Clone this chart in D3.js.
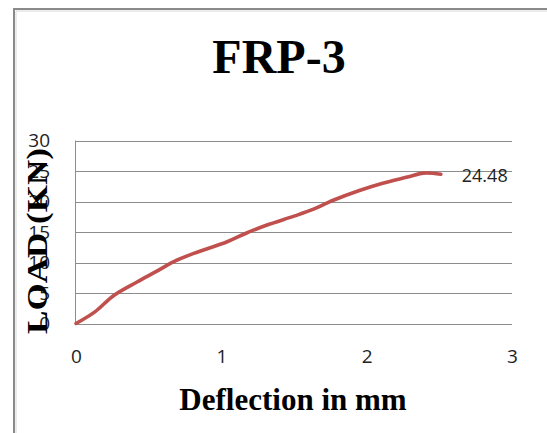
<!DOCTYPE html>
<html>
<head>
<meta charset="utf-8">
<script src="https://cdn.jsdelivr.net/npm/d3@7"></script>
<style>
  html, body { margin: 0; padding: 0; background: #fff; }
  svg { display: block; }
</style>
</head>
<body>
<svg id="chart" width="547" height="433"></svg>
<script>
// Load–deflection record for specimen FRP-3
const deflection = [0, 0.13, 0.26, 0.42, 0.55, 0.67, 0.81, 1.04, 1.17, 1.31, 1.50, 1.63, 1.77, 1.95, 2.11, 2.28, 2.39, 2.51];
const load       = [0, 1.9, 4.6, 6.8, 8.5, 10.1, 11.5, 13.4, 14.8, 16.1, 17.6, 18.7, 20.2, 21.8, 23.0, 24.0, 24.65, 24.48];
const xTicks = [0, 1, 2, 3];
const yTicks = [0, 5, 10, 15, 20, 25, 30];
const chartTitle = "FRP-3";
const xTitle = "Deflection in mm";
const yTitle = "LOAD (KN)";

const svg = d3.select("#chart");
const W = 547, H = 433;
const labelFont = "'Open Sans', 'Liberation Sans', sans-serif";
const titleFont = "'Liberation Serif', 'Times New Roman', serif";

// outer frame
svg.append("path")
  .attr("d", `M14,${H} L14,9 L${W},9`)
  .attr("fill", "none").attr("stroke", "#8a8a8a").attr("stroke-width", 2);
svg.append("path")
  .attr("d", `M16,${H} L16,11 L${W},11`)
  .attr("fill", "none").attr("stroke", "#d8d8d8").attr("stroke-width", 1);

const x = d3.scaleLinear().domain([0, 3]).range([76, 512]);
const y = d3.scaleLinear().domain([0, 30]).range([323.5, 140.5]);

// horizontal gridlines
svg.append("g").selectAll("line").data(yTicks).join("line")
  .attr("x1", x(0)).attr("x2", x(3))
  .attr("y1", d => Math.round(y(d)) + 0.5).attr("y2", d => Math.round(y(d)) + 0.5)
  .attr("stroke", "#8c8c8c").attr("stroke-width", 1);

// vertical axis line
svg.append("line")
  .attr("x1", x(0) - 0.5).attr("x2", x(0) - 0.5)
  .attr("y1", y(30)).attr("y2", y(0))
  .attr("stroke", "#8c8c8c").attr("stroke-width", 1);

// x axis labels
const xAxis = d3.axisBottom(x).tickValues(xTicks).tickSize(0).tickPadding(0).tickFormat(d3.format("d"));
const gx = svg.append("g").attr("transform", "translate(0,349)").call(xAxis);
gx.select(".domain").remove();
gx.selectAll("text")
  .attr("font-family", labelFont)
  .attr("font-size", 19).attr("fill", "#222").attr("dy", "0.71em");

// y axis labels
const yAxis = d3.axisLeft(y).tickValues(yTicks).tickSize(0).tickPadding(0).tickFormat(d3.format("d"));
const gy = svg.append("g").attr("transform", "translate(50,0)").call(yAxis);
gy.select(".domain").remove();
gy.selectAll("text")
  .attr("font-family", labelFont)
  .attr("font-size", 19).attr("fill", "#222");

// y axis title (rotated, bold serif)
svg.append("text")
  .attr("transform", "translate(47,241) rotate(-90)")
  .attr("text-anchor", "middle")
  .attr("font-family", titleFont)
  .attr("font-weight", "bold").attr("font-size", 29).attr("fill", "#000")
  .attr("textLength", 186).attr("lengthAdjust", "spacingAndGlyphs")
  .text(yTitle);

// load–deflection curve
const pts = deflection.map((d, i) => [d, load[i]]);
const line = d3.line().x(d => x(d[0])).y(d => y(d[1])).curve(d3.curveCatmullRom.alpha(0.5));
svg.append("path")
  .datum(pts)
  .attr("d", line)
  .attr("fill", "none").attr("stroke", "#C0504D").attr("stroke-width", 3.6)
  .attr("stroke-linejoin", "round").attr("stroke-linecap", "round");

// data label on final point
const last = pts[pts.length - 1];
svg.append("text")
  .attr("x", x(last[0]) + 21).attr("y", y(last[1]) + 8)
  .attr("font-family", labelFont)
  .attr("font-size", 18).attr("fill", "#222")
  .text(last[1].toFixed(2));

// chart title
svg.append("text")
  .attr("x", 279).attr("y", 73)
  .attr("text-anchor", "middle")
  .attr("font-family", titleFont)
  .attr("font-weight", "bold").attr("font-size", 48).attr("fill", "#000")
  .text(chartTitle);

// x axis title
svg.append("text")
  .attr("x", 293).attr("y", 410)
  .attr("text-anchor", "middle")
  .attr("font-family", titleFont)
  .attr("font-weight", "bold").attr("font-size", 31).attr("fill", "#000")
  .text(xTitle);
</script>
</body>
</html>
